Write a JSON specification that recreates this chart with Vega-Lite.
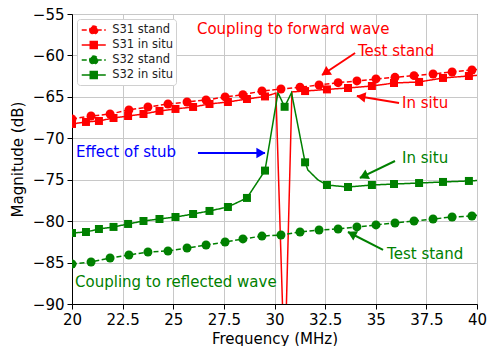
{
  "$schema": "https://vega.github.io/schema/vega-lite/v6.json",
  "width": 405,
  "height": 290,
  "autosize": {"type": "none"},
  "padding": {"left": 72, "top": 14, "right": 13, "bottom": 42},
  "datasets": {
    "curves": [
      {"series": "S31 stand", "freq": 20.0, "mag": -67.67},
      {"series": "S31 stand", "freq": 20.94, "mag": -67.31},
      {"series": "S31 stand", "freq": 21.88, "mag": -67.07},
      {"series": "S31 stand", "freq": 22.81, "mag": -66.58},
      {"series": "S31 stand", "freq": 23.75, "mag": -66.22},
      {"series": "S31 stand", "freq": 24.74, "mag": -65.86},
      {"series": "S31 stand", "freq": 25.68, "mag": -65.62},
      {"series": "S31 stand", "freq": 26.62, "mag": -65.38},
      {"series": "S31 stand", "freq": 27.56, "mag": -65.01},
      {"series": "S31 stand", "freq": 28.44, "mag": -64.75},
      {"series": "S31 stand", "freq": 29.38, "mag": -64.29},
      {"series": "S31 stand", "freq": 30.32, "mag": -64.05},
      {"series": "S31 stand", "freq": 31.26, "mag": -63.84},
      {"series": "S31 stand", "freq": 32.2, "mag": -63.57},
      {"series": "S31 stand", "freq": 33.14, "mag": -63.29},
      {"series": "S31 stand", "freq": 34.07, "mag": -63.08},
      {"series": "S31 stand", "freq": 35.01, "mag": -62.84},
      {"series": "S31 stand", "freq": 35.95, "mag": -62.64},
      {"series": "S31 stand", "freq": 36.89, "mag": -62.44},
      {"series": "S31 stand", "freq": 37.83, "mag": -62.24},
      {"series": "S31 stand", "freq": 38.77, "mag": -62.0},
      {"series": "S31 stand", "freq": 39.75, "mag": -61.76},
      {"series": "S31 stand", "freq": 40.0, "mag": -61.7},
      {"series": "S31 in situ", "freq": 20.0, "mag": -68.27},
      {"series": "S31 in situ", "freq": 20.69, "mag": -68.03},
      {"series": "S31 in situ", "freq": 21.33, "mag": -67.91},
      {"series": "S31 in situ", "freq": 22.05, "mag": -67.55},
      {"series": "S31 in situ", "freq": 22.77, "mag": -67.31},
      {"series": "S31 in situ", "freq": 23.53, "mag": -67.07},
      {"series": "S31 in situ", "freq": 24.32, "mag": -66.7},
      {"series": "S31 in situ", "freq": 25.11, "mag": -66.46},
      {"series": "S31 in situ", "freq": 25.98, "mag": -66.22},
      {"series": "S31 in situ", "freq": 26.79, "mag": -65.86},
      {"series": "S31 in situ", "freq": 27.7, "mag": -65.62},
      {"series": "S31 in situ", "freq": 28.64, "mag": -65.26},
      {"series": "S31 in situ", "freq": 29.53, "mag": -64.95},
      {"series": "S31 in situ", "freq": 30.07, "mag": -64.55},
      {"series": "S31 in situ", "freq": 30.5, "mag": -98.4},
      {"series": "S31 in situ", "freq": 30.86, "mag": -64.4},
      {"series": "S31 in situ", "freq": 31.51, "mag": -64.3},
      {"series": "S31 in situ", "freq": 32.59, "mag": -64.1},
      {"series": "S31 in situ", "freq": 33.63, "mag": -63.93},
      {"series": "S31 in situ", "freq": 34.81, "mag": -63.69},
      {"series": "S31 in situ", "freq": 35.9, "mag": -63.33},
      {"series": "S31 in situ", "freq": 37.14, "mag": -63.2},
      {"series": "S31 in situ", "freq": 38.32, "mag": -62.72},
      {"series": "S31 in situ", "freq": 39.6, "mag": -62.48},
      {"series": "S31 in situ", "freq": 40.0, "mag": -62.4},
      {"series": "S32 stand", "freq": 20.0, "mag": -85.17},
      {"series": "S32 stand", "freq": 20.94, "mag": -84.93},
      {"series": "S32 stand", "freq": 21.88, "mag": -84.45},
      {"series": "S32 stand", "freq": 22.81, "mag": -84.09},
      {"series": "S32 stand", "freq": 23.75, "mag": -83.72},
      {"series": "S32 stand", "freq": 24.74, "mag": -83.6},
      {"series": "S32 stand", "freq": 25.68, "mag": -83.24},
      {"series": "S32 stand", "freq": 26.62, "mag": -82.88},
      {"series": "S32 stand", "freq": 27.56, "mag": -82.52},
      {"series": "S32 stand", "freq": 28.44, "mag": -82.15},
      {"series": "S32 stand", "freq": 29.38, "mag": -81.8},
      {"series": "S32 stand", "freq": 30.32, "mag": -81.67},
      {"series": "S32 stand", "freq": 31.26, "mag": -81.31},
      {"series": "S32 stand", "freq": 32.2, "mag": -81.07},
      {"series": "S32 stand", "freq": 33.14, "mag": -80.95},
      {"series": "S32 stand", "freq": 34.07, "mag": -80.7},
      {"series": "S32 stand", "freq": 35.01, "mag": -80.46},
      {"series": "S32 stand", "freq": 35.95, "mag": -80.22},
      {"series": "S32 stand", "freq": 36.89, "mag": -79.98},
      {"series": "S32 stand", "freq": 37.83, "mag": -79.74},
      {"series": "S32 stand", "freq": 38.77, "mag": -79.5},
      {"series": "S32 stand", "freq": 39.75, "mag": -79.38},
      {"series": "S32 stand", "freq": 40.0, "mag": -79.3},
      {"series": "S32 in situ", "freq": 20.0, "mag": -81.43},
      {"series": "S32 in situ", "freq": 20.69, "mag": -81.31},
      {"series": "S32 in situ", "freq": 21.33, "mag": -80.95},
      {"series": "S32 in situ", "freq": 22.05, "mag": -80.7},
      {"series": "S32 in situ", "freq": 22.77, "mag": -80.34},
      {"series": "S32 in situ", "freq": 23.53, "mag": -79.98},
      {"series": "S32 in situ", "freq": 24.32, "mag": -79.74},
      {"series": "S32 in situ", "freq": 25.11, "mag": -79.5},
      {"series": "S32 in situ", "freq": 25.98, "mag": -79.14},
      {"series": "S32 in situ", "freq": 26.79, "mag": -78.77},
      {"series": "S32 in situ", "freq": 27.7, "mag": -78.29},
      {"series": "S32 in situ", "freq": 28.64, "mag": -77.2},
      {"series": "S32 in situ", "freq": 29.53, "mag": -73.9},
      {"series": "S32 in situ", "freq": 30.17, "mag": -64.5},
      {"series": "S32 in situ", "freq": 30.5, "mag": -66.2},
      {"series": "S32 in situ", "freq": 30.84, "mag": -64.5},
      {"series": "S32 in situ", "freq": 31.51, "mag": -72.9},
      {"series": "S32 in situ", "freq": 31.65, "mag": -73.83},
      {"series": "S32 in situ", "freq": 32.15, "mag": -75.03},
      {"series": "S32 in situ", "freq": 32.59, "mag": -75.64},
      {"series": "S32 in situ", "freq": 33.63, "mag": -75.88},
      {"series": "S32 in situ", "freq": 34.81, "mag": -75.64},
      {"series": "S32 in situ", "freq": 35.9, "mag": -75.52},
      {"series": "S32 in situ", "freq": 37.14, "mag": -75.4},
      {"series": "S32 in situ", "freq": 38.32, "mag": -75.27},
      {"series": "S32 in situ", "freq": 39.6, "mag": -75.15},
      {"series": "S32 in situ", "freq": 40.0, "mag": -75.1}
    ],
    "markers": [
      {"series": "S31 stand", "freq": 20.0, "mag": -67.67},
      {"series": "S31 stand", "freq": 20.94, "mag": -67.31},
      {"series": "S31 stand", "freq": 21.88, "mag": -67.07},
      {"series": "S31 stand", "freq": 22.81, "mag": -66.58},
      {"series": "S31 stand", "freq": 23.75, "mag": -66.22},
      {"series": "S31 stand", "freq": 24.74, "mag": -65.86},
      {"series": "S31 stand", "freq": 25.68, "mag": -65.62},
      {"series": "S31 stand", "freq": 26.62, "mag": -65.38},
      {"series": "S31 stand", "freq": 27.56, "mag": -65.01},
      {"series": "S31 stand", "freq": 28.44, "mag": -64.75},
      {"series": "S31 stand", "freq": 29.38, "mag": -64.29},
      {"series": "S31 stand", "freq": 30.32, "mag": -64.05},
      {"series": "S31 stand", "freq": 31.26, "mag": -63.84},
      {"series": "S31 stand", "freq": 32.2, "mag": -63.57},
      {"series": "S31 stand", "freq": 33.14, "mag": -63.29},
      {"series": "S31 stand", "freq": 34.07, "mag": -63.08},
      {"series": "S31 stand", "freq": 35.01, "mag": -62.84},
      {"series": "S31 stand", "freq": 35.95, "mag": -62.64},
      {"series": "S31 stand", "freq": 36.89, "mag": -62.44},
      {"series": "S31 stand", "freq": 37.83, "mag": -62.24},
      {"series": "S31 stand", "freq": 38.77, "mag": -62.0},
      {"series": "S31 stand", "freq": 39.75, "mag": -61.76},
      {"series": "S31 in situ", "freq": 20.0, "mag": -68.27},
      {"series": "S31 in situ", "freq": 20.69, "mag": -68.03},
      {"series": "S31 in situ", "freq": 21.33, "mag": -67.91},
      {"series": "S31 in situ", "freq": 22.05, "mag": -67.55},
      {"series": "S31 in situ", "freq": 22.77, "mag": -67.31},
      {"series": "S31 in situ", "freq": 23.53, "mag": -67.07},
      {"series": "S31 in situ", "freq": 24.32, "mag": -66.7},
      {"series": "S31 in situ", "freq": 25.11, "mag": -66.46},
      {"series": "S31 in situ", "freq": 25.98, "mag": -66.22},
      {"series": "S31 in situ", "freq": 26.79, "mag": -65.86},
      {"series": "S31 in situ", "freq": 27.7, "mag": -65.62},
      {"series": "S31 in situ", "freq": 28.64, "mag": -65.26},
      {"series": "S31 in situ", "freq": 29.53, "mag": -64.95},
      {"series": "S31 in situ", "freq": 30.5, "mag": -98.4},
      {"series": "S31 in situ", "freq": 31.51, "mag": -64.3},
      {"series": "S31 in situ", "freq": 32.59, "mag": -64.1},
      {"series": "S31 in situ", "freq": 33.63, "mag": -63.93},
      {"series": "S31 in situ", "freq": 34.81, "mag": -63.69},
      {"series": "S31 in situ", "freq": 35.9, "mag": -63.33},
      {"series": "S31 in situ", "freq": 37.14, "mag": -63.2},
      {"series": "S31 in situ", "freq": 38.32, "mag": -62.72},
      {"series": "S31 in situ", "freq": 39.6, "mag": -62.48},
      {"series": "S32 stand", "freq": 20.0, "mag": -85.17},
      {"series": "S32 stand", "freq": 20.94, "mag": -84.93},
      {"series": "S32 stand", "freq": 21.88, "mag": -84.45},
      {"series": "S32 stand", "freq": 22.81, "mag": -84.09},
      {"series": "S32 stand", "freq": 23.75, "mag": -83.72},
      {"series": "S32 stand", "freq": 24.74, "mag": -83.6},
      {"series": "S32 stand", "freq": 25.68, "mag": -83.24},
      {"series": "S32 stand", "freq": 26.62, "mag": -82.88},
      {"series": "S32 stand", "freq": 27.56, "mag": -82.52},
      {"series": "S32 stand", "freq": 28.44, "mag": -82.15},
      {"series": "S32 stand", "freq": 29.38, "mag": -81.8},
      {"series": "S32 stand", "freq": 30.32, "mag": -81.67},
      {"series": "S32 stand", "freq": 31.26, "mag": -81.31},
      {"series": "S32 stand", "freq": 32.2, "mag": -81.07},
      {"series": "S32 stand", "freq": 33.14, "mag": -80.95},
      {"series": "S32 stand", "freq": 34.07, "mag": -80.7},
      {"series": "S32 stand", "freq": 35.01, "mag": -80.46},
      {"series": "S32 stand", "freq": 35.95, "mag": -80.22},
      {"series": "S32 stand", "freq": 36.89, "mag": -79.98},
      {"series": "S32 stand", "freq": 37.83, "mag": -79.74},
      {"series": "S32 stand", "freq": 38.77, "mag": -79.5},
      {"series": "S32 stand", "freq": 39.75, "mag": -79.38},
      {"series": "S32 in situ", "freq": 20.0, "mag": -81.43},
      {"series": "S32 in situ", "freq": 20.69, "mag": -81.31},
      {"series": "S32 in situ", "freq": 21.33, "mag": -80.95},
      {"series": "S32 in situ", "freq": 22.05, "mag": -80.7},
      {"series": "S32 in situ", "freq": 22.77, "mag": -80.34},
      {"series": "S32 in situ", "freq": 23.53, "mag": -79.98},
      {"series": "S32 in situ", "freq": 24.32, "mag": -79.74},
      {"series": "S32 in situ", "freq": 25.11, "mag": -79.5},
      {"series": "S32 in situ", "freq": 25.98, "mag": -79.14},
      {"series": "S32 in situ", "freq": 26.79, "mag": -78.77},
      {"series": "S32 in situ", "freq": 27.7, "mag": -78.29},
      {"series": "S32 in situ", "freq": 28.64, "mag": -77.2},
      {"series": "S32 in situ", "freq": 29.53, "mag": -73.9},
      {"series": "S32 in situ", "freq": 30.5, "mag": -66.2},
      {"series": "S32 in situ", "freq": 31.51, "mag": -72.9},
      {"series": "S32 in situ", "freq": 32.59, "mag": -75.64},
      {"series": "S32 in situ", "freq": 33.63, "mag": -75.88},
      {"series": "S32 in situ", "freq": 34.81, "mag": -75.64},
      {"series": "S32 in situ", "freq": 35.9, "mag": -75.52},
      {"series": "S32 in situ", "freq": 37.14, "mag": -75.4},
      {"series": "S32 in situ", "freq": 38.32, "mag": -75.27},
      {"series": "S32 in situ", "freq": 39.6, "mag": -75.15}
    ],
    "notes": [
      {"label": "Coupling to forward wave", "wave": "forward", "freq": 26.17, "mag": -56.85},
      {"label": "Test stand", "wave": "forward", "freq": 34.12, "mag": -59.47},
      {"label": "In situ", "wave": "forward", "freq": 36.3, "mag": -65.74},
      {"label": "Effect of stub", "wave": "stub", "freq": 20.2, "mag": -71.6},
      {"label": "In situ", "wave": "reflected", "freq": 36.3, "mag": -72.38},
      {"label": "Test stand", "wave": "reflected", "freq": 35.56, "mag": -83.97},
      {"label": "Coupling to reflected wave", "wave": "reflected", "freq": 20.15, "mag": -87.34}
    ],
    "arrows": [
      {"id": "a1", "wave": "forward", "freq": 33.98, "mag": -59.71, "freq2": 32.35, "mag2": -62.36, "hfreq": 32.51, "hmag": -62.1},
      {"id": "a2", "wave": "forward", "freq": 36.15, "mag": -65.74, "freq2": 34.07, "mag2": -64.9, "hfreq": 34.27, "hmag": -64.98},
      {"id": "a3", "wave": "stub", "freq": 26.22, "mag": -71.78, "freq2": 29.53, "mag2": -71.78, "hfreq": 29.33, "hmag": -71.78},
      {"id": "a4", "wave": "reflected", "freq": 35.95, "mag": -72.74, "freq2": 34.22, "mag2": -74.79, "hfreq": 34.4, "hmag": -74.59},
      {"id": "a5", "wave": "reflected", "freq": 35.36, "mag": -83.48, "freq2": 33.63, "mag2": -81.31, "hfreq": 33.81, "hmag": -81.53}
    ]
  },
  "layer": [
    {
      "data": {"name": "curves"},
      "mark": {"type": "line", "clip": true, "strokeWidth": 1.5},
      "encoding": {
        "x": {
          "field": "freq", "type": "quantitative",
          "scale": {"domain": [20, 40], "nice": false, "zero": false},
          "axis": {"title": "Frequency (MHz)", "values": [20, 22.5, 25, 27.5, 30, 32.5, 35, 37.5, 40], "format": ".4~g", "labelFlush": false, "labelOverlap": false, "titlePadding": 4}
        },
        "y": {
          "field": "mag", "type": "quantitative",
          "scale": {"domain": [-90, -55], "nice": false, "zero": false},
          "axis": {"title": "Magnitude (dB)", "values": [-90, -85, -80, -75, -70, -65, -60, -55], "format": ".4~g", "labelFlush": false, "labelOverlap": false, "titlePadding": 7}
        },
        "color": {
          "field": "series", "type": "nominal",
          "scale": {"domain": ["S31 stand", "S31 in situ", "S32 stand", "S32 in situ"], "range": ["#ff0000", "#ff0000", "#008000", "#008000"]},
          "legend": {
            "title": null,
            "orient": "top-left",
            "offset": 5,
            "padding": 3,
            "fillColor": "white",
            "strokeColor": "#d0d0d0",
            "cornerRadius": 3,
            "labelFontSize": 11.5,
            "labelColor": "#222",
            "symbolSize": 210,
            "symbolStrokeWidth": 1.5,
            "symbolOffset": 5.75,
            "labelOffset": 10.5,
            "rowPadding": 0,
            "encode": {
              "symbols": {
                "update": {
                  "shape": {"signal": "indexof(datum.value, 'stand') >= 0 ? 'M-1.66,0H1.66M-0.55,0A0.55,0.55 0 1 0 0.55,0A0.55,0.55 0 1 0 -0.55,0Z' : 'M-1.66,0H1.66M-0.48,-0.48H0.48V0.48H-0.48Z'"},
                  "fill": {"signal": "indexof(datum.value, 'S31') === 0 ? '#ff0000' : '#008000'"},
                  "opacity": {"value": 1}
                }
              }
            }
          }
        },
        "strokeDash": {
          "field": "series", "type": "nominal",
          "scale": {"domain": ["S31 stand", "S31 in situ", "S32 stand", "S32 in situ"], "range": [[5, 2.5], [1, 0], [5, 2.5], [1, 0]]}
        }
      }
    },
    {
      "data": {"name": "markers"},
      "transform": [{"filter": "indexof(datum.series, 'stand') >= 0"}],
      "mark": {"type": "point", "shape": "circle", "filled": true, "clip": true, "opacity": 1, "size": 80},
      "encoding": {
        "x": {"field": "freq", "type": "quantitative"},
        "y": {"field": "mag", "type": "quantitative"},
        "color": {"field": "series", "type": "nominal", "legend": null}
      }
    },
    {
      "data": {"name": "markers"},
      "transform": [{"filter": "indexof(datum.series, 'in situ') >= 0"}],
      "mark": {"type": "point", "shape": "square", "filled": true, "clip": true, "opacity": 1, "size": 64},
      "encoding": {
        "x": {"field": "freq", "type": "quantitative"},
        "y": {"field": "mag", "type": "quantitative"},
        "color": {"field": "series", "type": "nominal", "legend": null}
      }
    },
    {
      "data": {"name": "arrows"},
      "transform": [{"filter": "datum.wave === 'forward'"}],
      "mark": {"type": "rule", "color": "#ff0000", "strokeWidth": 2},
      "encoding": {
        "x": {"field": "freq", "type": "quantitative"},
        "y": {"field": "mag", "type": "quantitative"},
        "x2": {"field": "freq2"},
        "y2": {"field": "mag2"}
      }
    },
    {
      "data": {"name": "arrows"},
      "transform": [{"filter": "datum.wave === 'reflected'"}],
      "mark": {"type": "rule", "color": "#008000", "strokeWidth": 2},
      "encoding": {
        "x": {"field": "freq", "type": "quantitative"},
        "y": {"field": "mag", "type": "quantitative"},
        "x2": {"field": "freq2"},
        "y2": {"field": "mag2"}
      }
    },
    {
      "data": {"name": "arrows"},
      "transform": [{"filter": "datum.wave === 'stub'"}],
      "mark": {"type": "rule", "color": "#0000ff", "strokeWidth": 2},
      "encoding": {
        "x": {"field": "freq", "type": "quantitative"},
        "y": {"field": "mag", "type": "quantitative"},
        "x2": {"field": "freq2"},
        "y2": {"field": "mag2"}
      }
    },
    {
      "data": {"name": "arrows"},
      "transform": [{"filter": "datum.id === 'a1'"}],
      "mark": {"type": "point", "shape": "triangle-right", "filled": true, "opacity": 1, "size": 110, "angle": 146.3, "color": "#ff0000"},
      "encoding": {"x": {"field": "hfreq", "type": "quantitative"}, "y": {"field": "hmag", "type": "quantitative"}}
    },
    {
      "data": {"name": "arrows"},
      "transform": [{"filter": "datum.id === 'a2'"}],
      "mark": {"type": "point", "shape": "triangle-right", "filled": true, "opacity": 1, "size": 110, "angle": 189.5, "color": "#ff0000"},
      "encoding": {"x": {"field": "hfreq", "type": "quantitative"}, "y": {"field": "hmag", "type": "quantitative"}}
    },
    {
      "data": {"name": "arrows"},
      "transform": [{"filter": "datum.id === 'a3'"}],
      "mark": {"type": "point", "shape": "triangle-right", "filled": true, "opacity": 1, "size": 110, "angle": 0, "color": "#0000ff"},
      "encoding": {"x": {"field": "hfreq", "type": "quantitative"}, "y": {"field": "hmag", "type": "quantitative"}}
    },
    {
      "data": {"name": "arrows"},
      "transform": [{"filter": "datum.id === 'a4'"}],
      "mark": {"type": "point", "shape": "triangle-right", "filled": true, "opacity": 1, "size": 110, "angle": 154.1, "color": "#008000"},
      "encoding": {"x": {"field": "hfreq", "type": "quantitative"}, "y": {"field": "hmag", "type": "quantitative"}}
    },
    {
      "data": {"name": "arrows"},
      "transform": [{"filter": "datum.id === 'a5'"}],
      "mark": {"type": "point", "shape": "triangle-right", "filled": true, "opacity": 1, "size": 110, "angle": 207.2, "color": "#008000"},
      "encoding": {"x": {"field": "hfreq", "type": "quantitative"}, "y": {"field": "hmag", "type": "quantitative"}}
    },
    {
      "data": {"name": "notes"},
      "transform": [{"filter": "datum.wave === 'forward'"}],
      "mark": {"type": "text", "align": "left", "baseline": "middle", "fontSize": 15, "color": "#ff0000"},
      "encoding": {"x": {"field": "freq", "type": "quantitative"}, "y": {"field": "mag", "type": "quantitative"}, "text": {"field": "label"}}
    },
    {
      "data": {"name": "notes"},
      "transform": [{"filter": "datum.wave === 'reflected'"}],
      "mark": {"type": "text", "align": "left", "baseline": "middle", "fontSize": 15, "color": "#008000"},
      "encoding": {"x": {"field": "freq", "type": "quantitative"}, "y": {"field": "mag", "type": "quantitative"}, "text": {"field": "label"}}
    },
    {
      "data": {"name": "notes"},
      "transform": [{"filter": "datum.wave === 'stub'"}],
      "mark": {"type": "text", "align": "left", "baseline": "middle", "fontSize": 15, "color": "#0000ff"},
      "encoding": {"x": {"field": "freq", "type": "quantitative"}, "y": {"field": "mag", "type": "quantitative"}, "text": {"field": "label"}}
    }
  ],
  "config": {
    "font": "DejaVu Sans",
    "view": {"stroke": "#222", "strokeWidth": 1},
    "axis": {
      "labelFontSize": 15,
      "titleFontSize": 15,
      "titleFontWeight": "normal",
      "labelColor": "#000",
      "titleColor": "#000",
      "domainColor": "#000",
      "tickColor": "#000",
      "tickSize": 5,
      "labelPadding": 3,
      "grid": true,
      "gridColor": "#c8c8c8",
      "gridWidth": 1
    }
  }
}
